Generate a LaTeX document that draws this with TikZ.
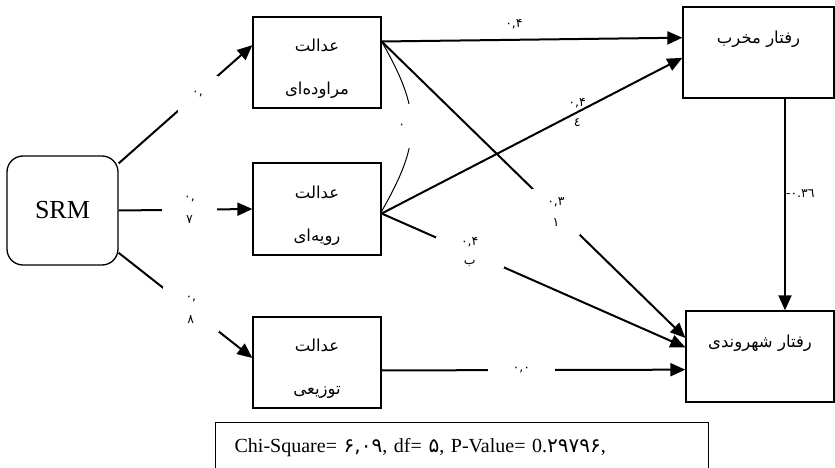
\documentclass[tikz,border=0pt]{standalone}
\usepackage{fontspec}
\setmainfont{Liberation Serif}
\newfontfamily\fa[Script=Arabic]{DejaVu Sans}
\newfontfamily\fn{DejaVu Sans}
\TeXXeTstate=1
\usetikzlibrary{arrows.meta,calc}
\newcommand{\fd}[1]{{\fn\fontsize{20}{20}\selectfont #1}}

\begin{document}
\begin{tikzpicture}[
  x=1pt, y=-1pt, >={Triangle[length=15pt, width=13pt]},
  box/.style={draw, line width=1.3pt, minimum width=128pt,
    minimum height=91pt, inner sep=2pt, align=center,
    font=\fa\fontsize{16.5}{43}\selectfont},
  dv/.style={draw, line width=1.3pt, minimum height=91pt, inner sep=2pt,
    text depth=30pt, font=\fa\fontsize{16.5}{18}\selectfont},
  arr/.style={->, line width=2pt},
  gap/.style={fill=white, inner sep=0pt, align=center,
    font=\fn\fontsize{12.5}{23}\selectfont},
  lb/.style={inner sep=0pt, align=center,
    font=\fn\fontsize{12.5}{20}\selectfont},
]
\useasboundingbox (0,0) rectangle (835,468);
\clip (0,0) rectangle (835,468);
% boxes
\node[draw, line width=1.3pt, rounded corners=16pt, minimum width=111pt,
  minimum height=109pt, font=\fontsize{26}{30}\selectfont]
  (srm) at (62.5,210.5) {SRM};
\node[box] (b1) at (317,62.5)
  {\rule{0pt}{26pt}\beginR عدالت\endR\\\beginR مراوده‌ای\endR};
\node[box, minimum height=92pt] (b2) at (317,209)
  {\rule{0pt}{26pt}\beginR عدالت\endR\\\beginR رویه‌ای\endR};
\node[box] (b3) at (317,362.5)
  {\rule{0pt}{26pt}\beginR عدالت\endR\\\beginR توزیعی\endR};
\node[dv, minimum width=151pt] (b4) at (758.5,52.5) {\beginR رفتار مخرب\endR};
\node[dv, minimum width=148pt] (b5) at (760,356.5)
  {\beginR رفتار شهروندی\endR};
% paths from SRM
\draw[arr] (srm.40) -- node[gap, pos=.59, minimum width=40pt,
  minimum height=36pt] {٠,} (b1.165);
\draw[arr] (srm.east) -- node[gap, pos=.53, minimum width=55pt,
  minimum height=40pt] {٠,\\٧} (b2.west);
\draw[arr] (srm.-37) -- node[gap, pos=.54, minimum width=56pt,
  minimum height=45pt] {٠,\\٨} (b3.176);
% paths to the outcomes
\draw[arr] (b1.18) -- node[lb, pos=.44, yshift=16pt] {٠,۴} (b4.169);
\draw[arr] (b1.18) -- node[gap, pos=.574, minimum width=48pt,
  minimum height=46pt, font=\fn\fontsize{12.5}{21}\selectfont]
  {٠,٣\\١} (b5.166);
\draw[arr] (b2.-4) -- node[lb, pos=.65] {٠,۴\\{\fa ٤}} (b4.184);
\draw[arr] (b2.-4) -- node[gap, pos=.29, minimum width=68pt,
  minimum height=31pt, font=\fn\fontsize{12.5}{19}\selectfont]
  {٠,۴\\{\fa ب}} (b5.173);
\draw[arr] (b3.-7) -- node[gap, pos=.46, minimum width=67pt,
  minimum height=25pt] {٠,٠} (b5.190);
\draw[arr] ([xshift=26.5pt]b4.south) -- node[lb, pos=.45, anchor=west]
  {-٠.٣٦} ([xshift=25pt]b5.north);
% covariance
\draw[line width=1pt] (b1.18) .. controls +(40,70) and +(40,-70) ..
  node[gap, pos=.5, xshift=-10pt, minimum width=40pt,
  minimum height=44pt] {٠} (b2.-2);
% fit
\node[draw, line width=1.3pt, anchor=north west, minimum width=493pt,
  minimum height=50pt, text width=455pt, inner xsep=19pt, align=left,
  font=\fontsize{20}{24}\selectfont] (chi) at (215,422)
  {Chi-Square= \fd{۶,۰۹}, df= \fd{۵}, P-Value= 0.\fd{۲۹۷۹۶},};
\end{tikzpicture}
\end{document}
